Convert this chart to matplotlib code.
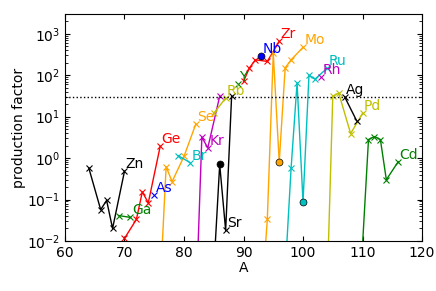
import numpy as np
import matplotlib.pyplot as plt

# isotope mass numbers and production factors, one pair of lists per element
zn_A = [64, 66, 67, 68, 70]
zn_pf = [0.58, 0.057, 0.095, 0.020, 0.48]
ga_A = [69, 71]
ga_pf = [0.041, 0.037]
ge_A = [70, 72, 73, 74, 76]
ge_pf = [0.0115, 0.033, 0.153, 0.083, 1.92]
as_A = [75]
as_pf = [0.13]
se_A = [74, 76, 77, 78, 80, 82]
se_pf = [1e-4, 8e-4, 0.62, 0.27, 1.1, 6.7]
br_A = [79, 81]
br_pf = [1.15, 0.78]
kr_A = [78, 80, 82, 83, 84, 86]
kr_pf = [1e-5, 1e-5, 2.5e-4, 3.2, 1.76, 31]
rb_A = [85, 87]
rb_pf = [12, 28]
sr_A = [84, 86, 87, 88]
sr_pf = [5e-6, 0.7, 0.018, 31]
y_A = [89]
y_pf = [60]
zr_A = [90, 91, 92, 94, 96]
zr_pf = [71, 150, 235, 215, 650]
nb_A = [93]
nb_pf = [295]
mo_A = [92, 94, 95, 96, 97, 98, 100]
mo_pf = [3e-6, 0.033, 340, 0.8, 150, 235, 470]
ru_A = [96, 98, 99, 100, 101, 102, 104]
ru_pf = [5e-6, 0.58, 65, 0.087, 100, 80, 145]
rh_A = [103]
rh_pf = [90]
pd_A = [102, 104, 105, 106, 108, 110]
pd_pf = [1e-5, 4e-4, 31, 37, 3.9, 12]
ag_A = [107, 109]
ag_pf = [30, 8]
cd_A = [106, 108, 110, 111, 112, 113, 114, 116]
cd_pf = [1e-6, 1e-6, 0.008, 2.8, 3.3, 2.8, 0.3, 0.82]

elements = ['Zn', 'Ga', 'Ge', 'As', 'Se', 'Br', 'Kr', 'Rb', 'Sr',
            'Y', 'Zr', 'Nb', 'Mo', 'Ru', 'Rh', 'Pd', 'Ag', 'Cd']
masses = [zn_A, ga_A, ge_A, as_A, se_A, br_A, kr_A, rb_A, sr_A,
          y_A, zr_A, nb_A, mo_A, ru_A, rh_A, pd_A, ag_A, cd_A]
factors = [zn_pf, ga_pf, ge_pf, as_pf, se_pf, br_pf, kr_pf, rb_pf, sr_pf,
           y_pf, zr_pf, nb_pf, mo_pf, ru_pf, rh_pf, pd_pf, ag_pf, cd_pf]
# isotope next to which the element name is written
label_A = [70, 71, 76, 75, 82, 81, 84, 87, 87,
           89, 96, 93, 100, 104, 103, 110, 107, 116]
# s-only isotopes, drawn with a circle
s_only = {'Sr': 86, 'Nb': 93, 'Mo': 96, 'Ru': 100}

colors = ['k', 'g', 'r', 'b', 'orange', 'c', 'm', 'y']

plt.rcParams['font.size'] = 10
fig = plt.figure(figsize=(4.36, 2.91), dpi=100)
ax = fig.add_axes([0.149, 0.172, 0.819, 0.780])

for i, (el, A, pf) in enumerate(zip(elements, masses, factors)):
    col = colors[i % len(colors)]
    A = np.array(A)
    pf = np.array(pf)
    s = A == s_only.get(el, -1)
    ax.plot(A, pf, '-', color=col, lw=1)
    ax.plot(A[~s], pf[~s], 'x', color=col, ms=5, mew=0.8)
    ax.plot(A[s], pf[s], 'o', color=col, ms=5, mec='k', mew=0.5)
    j = list(A).index(label_A[i])
    ax.annotate(el, (A[j], pf[j]), xytext=(1, 0), textcoords='offset points',
                color=col, ha='left', va='bottom', fontsize=10)

ax.axhline(30, color='k', ls=':', lw=1)

ax.set_yscale('log')
ax.set_xlim(60, 120)
ax.set_ylim(1e-2, 3e3)
ax.set_xlabel('A', labelpad=1)
ax.set_ylabel('production factor', labelpad=1)
ax.tick_params(which='both', direction='in', top=True, right=True)

fig.savefig('out.png', dpi=100)
